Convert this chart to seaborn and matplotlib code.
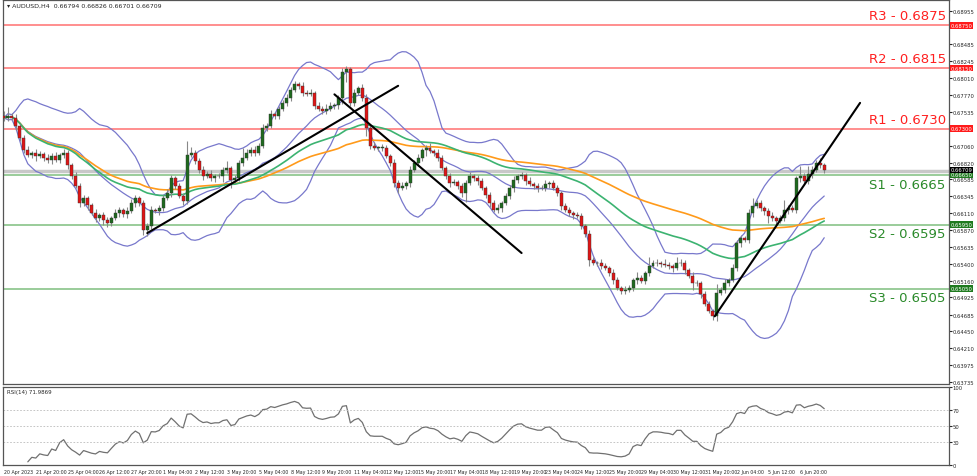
import matplotlib
matplotlib.use("Agg")
import matplotlib.pyplot as plt
import matplotlib.transforms as mtransforms
import numpy as np
import pandas as pd
import seaborn as sns

# AUDUSD H4 closes, in pips above 0.6600
close_pips = [145, 148, 145, 134, 117, 100, 93, 96, 91, 94, 89, 86, 91, 86, 93, 96, 79, 63, 49, 25,
              32, 22, 11, 4, 8, 1, -3, 4, 11, 15, 10, 14, 25, 32, 25, -13, -7, 15, 14, 18,
              32, 39, 60, 49, 35, 28, 93, 96, 85, 72, 63, 66, 60, 63, 63, 72, 75, 57, 60, 82,
              89, 96, 100, 96, 106, 131, 134, 150, 148, 157, 166, 173, 184, 193, 190, 180, 179, 180, 162, 157,
              155, 158, 162, 163, 173, 209, 213, 166, 180, 187, 173, 131, 106, 103, 103, 103, 91, 82, 53, 46,
              49, 53, 72, 82, 89, 100, 103, 98, 96, 89, 75, 63, 53, 55, 49, 39, 53, 63, 60, 56,
              46, 36, 25, 15, 18, 25, 35, 46, 57, 63, 64, 56, 52, 49, 46, 46, 52, 53, 46, 39,
              21, 15, 11, 8, 7, -7, -18, -55, -59, -59, -63, -66, -73, -83, -94, -98, -97, -94, -83, -80,
              -84, -73, -63, -59, -59, -60, -62, -63, -66, -59, -59, -69, -77, -87, -87, -103, -117, -126, -134, -101,
              -97, -87, -83, -66, -31, -24, -27, 11, 21, 25, 18, 14, 7, 4, 0, 4, 15, 18, 15, 60,
              63, 56, 66, 72, 82, 79, 72]
upper_wick = [6, 12, 4, 5, 3, 4, 6, 3, 5, 4, 3, 5, 4, 6, 3, 5, 4, 3, 6, 4,
              5, 3, 4, 6, 3, 5, 4, 3, 6, 4, 3, 5, 6, 4, 3, 5, 4, 6, 3, 5,
              4, 6, 5, 3, 4, 5, 20, 8, 4, 3, 5, 4, 6, 3, 5, 4, 10, 3, 5, 4,
              14, 5, 4, 6, 3, 5, 4, 6, 3, 5, 4, 6, 5, 4, 3, 5, 4, 6, 3, 5,
              4, 6, 5, 3, 4, 6, 5, 4, 6, 3, 5, 6, 4, 5, 3, 5, 4, 3, 5, 4,
              6, 3, 5, 4, 5, 3, 4, 6, 3, 5, 4, 3, 5, 4, 3, 5, 4, 6, 3, 5,
              4, 3, 5, 4, 6, 3, 5, 4, 6, 3, 5, 4, 6, 3, 5, 4, 6, 3, 5, 4,
              3, 5, 4, 3, 5, 4, 3, 5, 4, 3, 5, 4, 3, 5, 4, 3, 5, 4, 3, 9,
              4, 3, 12, 4, 5, 3, 6, 4, 3, 9, 5, 4, 3, 5, 4, 3, 5, 4, 3, 12,
              4, 5, 3, 6, 4, 5, 3, 6, 12, 4, 5, 3, 4, 5, 3, 4, 14, 4, 5, 3,
              15, 4, 12, 5, 4, 6, 3]
lower_wick = [4, 5, 3, 6, 4, 5, 3, 4, 6, 3, 5, 4, 6, 3, 5, 4, 6, 4, 3, 5,
              4, 6, 3, 5, 4, 6, 5, 4, 3, 5, 4, 6, 3, 5, 4, 6, 8, 4, 3, 5,
              4, 3, 5, 4, 3, 5, 4, 3, 5, 4, 6, 3, 4, 5, 3, 8, 4, 10, 3, 4,
              5, 3, 4, 5, 3, 4, 5, 3, 4, 5, 3, 4, 5, 3, 4, 5, 3, 4, 5, 3,
              4, 5, 3, 4, 5, 8, 14, 4, 5, 3, 4, 12, 5, 3, 4, 5, 3, 4, 5, 6,
              3, 4, 5, 3, 4, 5, 8, 3, 4, 5, 3, 4, 5, 3, 4, 5, 12, 3, 4, 5,
              3, 4, 5, 3, 4, 5, 3, 4, 5, 3, 4, 5, 3, 4, 5, 3, 4, 5, 3, 4,
              5, 3, 4, 5, 3, 4, 5, 8, 3, 4, 5, 3, 4, 5, 3, 4, 5, 3, 4, 5,
              3, 4, 5, 3, 4, 5, 3, 4, 5, 3, 4, 5, 3, 10, 4, 5, 3, 4, 5, 6,
              3, 4, 5, 3, 4, 5, 3, 4, 5, 3, 4, 5, 10, 4, 5, 3, 4, 5, 3, 4,
              5, 3, 4, 5, 3, 4, 5]

levels = [0.6875, 0.6815, 0.6730, 0.6665, 0.6595, 0.6505]
level_names = ["R3", "R2", "R1", "S1", "S2", "S3"]
price_ticks = [0.68955, 0.68485, 0.68245, 0.68010, 0.67770, 0.67535, 0.67060, 0.66820, 0.66585,
               0.66345, 0.66110, 0.65870, 0.65635, 0.65400, 0.65160, 0.64925, 0.64685, 0.64450,
               0.64210, 0.63975, 0.63735]
current_price = 0.66709
time_labels = ["20 Apr 2023", "21 Apr 20:00", "25 Apr 04:00", "26 Apr 12:00", "27 Apr 20:00",
               "1 May 04:00", "2 May 12:00", "3 May 20:00", "5 May 04:00", "8 May 12:00",
               "9 May 20:00", "11 May 04:00", "12 May 12:00", "15 May 20:00", "17 May 04:00",
               "18 May 12:00", "19 May 20:00", "23 May 04:00", "24 May 12:00", "25 May 20:00",
               "29 May 04:00", "30 May 12:00", "31 May 20:00", "2 Jun 04:00", "5 Jun 12:00", "6 Jun 20:00"]
# trendline anchors: (bar, price)
trend_a = [(36, 0.65830), (99, 0.67900)]
trend_b = [(83, 0.67780), (130, 0.65550)]
trend_c = [(178.5, 0.64660), (215, 0.67660)]

close = np.array(close_pips) / 10000 + 0.66
open_ = np.concatenate([[close[0] + 0.0003], close[:-1]])
high = np.maximum(open_, close) + np.array(upper_wick) / 10000
low = np.minimum(open_, close) - np.array(lower_wick) / 10000
df = pd.DataFrame({"bar": np.arange(len(close)), "open": open_, "close": close, "high": high, "low": low})

mid = df["close"].rolling(20, min_periods=1).mean()
sd = df["close"].rolling(20, min_periods=1).std().fillna(0)
df["bb_up"] = mid + 2 * sd
df["bb_mid"] = mid
df["bb_dn"] = mid - 2 * sd
df["ema50"] = df["close"].ewm(span=50).mean()
df["ema100"] = df["close"].ewm(span=100).mean()
delta = df["close"].diff()
gain = delta.clip(lower=0).ewm(alpha=1 / 14, min_periods=6).mean()
loss = (-delta.clip(upper=0)).ewm(alpha=1 / 14, min_periods=6).mean()
df["rsi"] = 100 - 100 / (1 + gain / loss)

sns.set_style("white")
fig = plt.figure(figsize=(9.77, 4.77), dpi=100)
ax = fig.add_axes([0.003, 0.193, 0.968, 0.804])
ax2 = fig.add_axes([0.003, 0.023, 0.968, 0.164])

red = "#ff2020"
green = "#2a8a2a"
for lv, nm in zip(levels, level_names):
    col = red if nm[0] == "R" else green
    lcol = "#ff7070" if nm[0] == "R" else "#7fbf7f"
    ax.axhline(lv, color=lcol, lw=1.1, zorder=1)
    va = "bottom" if nm[0] == "R" else "top"
    off = 0.0004 if nm[0] == "R" else -0.0004
    ax.text(236.5, lv + off, f"{nm} - {lv:.4f}", color=col, fontsize=9.5, ha="right", va=va)
ax.axhline(current_price, color="#c8c8c8", lw=2.5, zorder=1)

for c in ["bb_up", "bb_mid", "bb_dn"]:
    sns.lineplot(data=df, x="bar", y=c, ax=ax, color="#7878cc", lw=0.9, zorder=2)
sns.lineplot(data=df, x="bar", y="ema100", ax=ax, color="#ff9a1a", lw=1.2, zorder=2)
sns.lineplot(data=df, x="bar", y="ema50", ax=ax, color="#3cb371", lw=1.2, zorder=2)

ax.vlines(df["bar"], df["low"], df["high"], color="#888888", lw=0.8, zorder=3)
up = df["close"] >= df["open"]
ax.bar(df["bar"], (df["close"] - df["open"]).abs().clip(lower=0.00004),
       bottom=np.minimum(df["open"], df["close"]), width=0.75,
       color=np.where(up, "#1e6a1e", "#e01515"), edgecolor="#333333", linewidth=0.3, zorder=4)

for tl in [trend_a, trend_b, trend_c]:
    ax.plot([p[0] for p in tl], [p[1] for p in tl], color="black", lw=1.5, zorder=5)

ax.set_xlim(-0.25, 237.25)
ax.set_ylim(0.6371, 0.6910)
ax.yaxis.tick_right()
ax.set_yticks(price_ticks)
ax.set_yticklabels([f"{t:.5f}" for t in price_ticks], fontsize=3.8)
ax.tick_params(axis="y", length=2, pad=1)
ax.set_xticks([])
ax.set_xlabel("")
ax.set_ylabel("")
ax.text(0.004, 0.995, "\u25be AUDUSD,H4  0.66794 0.66826 0.66701 0.66709", transform=ax.transAxes,
        fontsize=4.5, va="top")

trans = mtransforms.blended_transform_factory(ax.transAxes, ax.transData)
for lv, nm in zip(levels, level_names):
    fc = "#ff1a1a" if nm[0] == "R" else "#1f7a1f"
    ax.text(1.002, lv, f"{lv:.5f}", transform=trans, fontsize=3.8, color="white", va="center",
            bbox=dict(boxstyle="square,pad=0.15", fc=fc, ec="none"), clip_on=False)
ax.text(1.002, current_price + 0.0001, f"{current_price:.5f}", transform=trans, fontsize=3.8, color="white",
        va="center", bbox=dict(boxstyle="square,pad=0.15", fc="black", ec="none"), clip_on=False)

sns.lineplot(data=df, x="bar", y="rsi", ax=ax2, color="#707070", lw=0.9)
for lv in [70, 50, 30]:
    ax2.axhline(lv, color="#bbbbbb", lw=0.6, ls=(0, (2, 2)))
ax2.set_xlim(-0.25, 237.25)
ax2.set_ylim(0, 100)
ax2.yaxis.tick_right()
ax2.set_yticks([0, 30, 50, 70, 100])
ax2.set_yticklabels(["0", "30", "50", "70", "100"], fontsize=3.8)
ax2.tick_params(axis="y", length=2, pad=1)
ax2.set_xticks(np.arange(len(time_labels)) * 8)
ax2.set_xticklabels(time_labels, fontsize=3.4, ha="left")
ax2.tick_params(axis="x", length=2, pad=1)
ax2.set_xlabel("")
ax2.set_ylabel("")
ax2.text(0.004, 0.97, f"RSI(14) {df['rsi'].iloc[-1]:.4f}", transform=ax2.transAxes, fontsize=4, va="top")

for a in [ax, ax2]:
    for s in a.spines.values():
        s.set_color("#555555")
        s.set_linewidth(0.9)

fig.savefig("out.png", dpi=100)
